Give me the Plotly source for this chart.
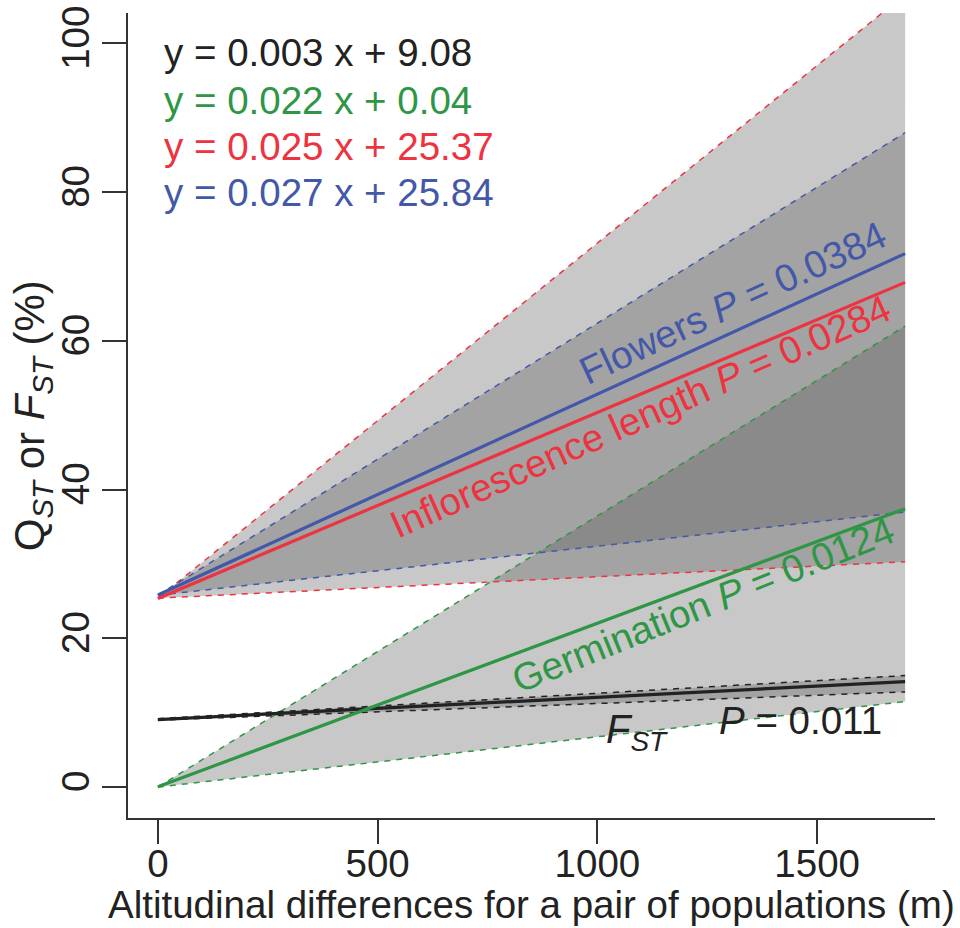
import plotly.graph_objects as go

# ---- data ----
x_ends = [0, 1700]

fst_fit = [9.08, 14.18]
fst_lo = [9.0, 12.8]
fst_hi = [9.2, 15.0]

germ_fit = [0.04, 37.44]
germ_lo = [0.0, 11.5]
germ_hi = [0.0, 62.0]

infl_fit = [25.37, 67.87]
infl_lo = [25.4, 30.3]
infl_hi = [25.4, 106.6]

flow_fit = [25.84, 71.74]
flow_lo = [25.8, 37.0]
flow_hi = [25.8, 88.0]

x_ticks = [0, 500, 1000, 1500]
y_ticks = [0, 20, 40, 60, 80, 100]

equations = ["y = 0.003 x + 9.08", "y = 0.022 x + 0.04",
             "y = 0.025 x + 25.37", "y = 0.027 x + 25.84"]

BLACK = "#222222"
GREEN = "#2e9645"
RED = "#ee3340"
BLUE = "#4358a8"
FILL = "rgba(87,87,87,0.33)"
FONT = "Liberation Sans"
FS = 38.5

fig = go.Figure()

bands = [(infl_lo, infl_hi), (flow_lo, flow_hi), (germ_lo, germ_hi), (fst_lo, fst_hi)]
for lo, hi in bands:
    fig.add_trace(go.Scatter(
        x=[x_ends[0], x_ends[1], x_ends[1], x_ends[0]],
        y=[lo[0], lo[1], hi[1], hi[0]],
        fill="toself", fillcolor=FILL, line=dict(width=0),
        mode="lines", hoverinfo="skip", showlegend=False))

dashed = [(infl_lo, RED), (infl_hi, RED), (flow_lo, BLUE), (flow_hi, BLUE),
          (germ_lo, GREEN), (germ_hi, GREEN), (fst_lo, BLACK), (fst_hi, BLACK)]
for ys, col in dashed:
    fig.add_trace(go.Scatter(x=x_ends, y=ys, mode="lines",
                             line=dict(color=col, width=1.5, dash="6px,6px"),
                             showlegend=False, hoverinfo="skip"))

fits = [(fst_fit, BLACK), (germ_fit, GREEN), (infl_fit, RED), (flow_fit, BLUE)]
for ys, col in fits:
    fig.add_trace(go.Scatter(x=x_ends, y=ys, mode="lines",
                             line=dict(color=col, width=3.2),
                             showlegend=False, hoverinfo="skip"))

ann = []
eq_cols = [BLACK, GREEN, RED, BLUE]
eq_y = [98.8, 92.4, 86.2, 80.0]
for t, c, yy in zip(equations, eq_cols, eq_y):
    ann.append(dict(x=9, y=yy, xref="x", yref="y", text=t, showarrow=False,
                    xanchor="left", yanchor="middle",
                    font=dict(family=FONT, size=FS, color=c)))

ann.append(dict(x=1308, y=65.2, text="Flowers <i>P</i> = 0.0384", textangle=-25,
                showarrow=False, font=dict(family=FONT, size=FS, color=BLUE)))
ann.append(dict(x=1097, y=49.8, text="Inflorescence length <i>P</i> = 0.0284", textangle=-24,
                showarrow=False, font=dict(family=FONT, size=FS, color=RED)))
ann.append(dict(x=1240, y=24.6, text="Germination <i>P</i> = 0.0124", textangle=-22,
                showarrow=False, font=dict(family=FONT, size=FS, color=GREEN)))
ann.append(dict(x=1090, y=7.4, text="<i>F</i><sub><i>ST</i></sub>",
                showarrow=False, font=dict(family=FONT, size=40, color=BLACK)))
ann.append(dict(x=1462, y=9.0, text="<i>P</i> = 0.011",
                showarrow=False, font=dict(family=FONT, size=FS, color=BLACK)))

ann.append(dict(x=0.5, y=-0.108, xref="paper", yref="paper",
                text="Altitudinal differences for a pair of populations (m)",
                showarrow=False, xanchor="center", yanchor="middle",
                font=dict(family=FONT, size=FS, color=BLACK)))
ann.append(dict(x=-0.118, y=0.5, xref="paper", yref="paper",
                text="Q<sub><i>ST</i></sub> or <i>F</i><sub><i>ST</i></sub> (%)",
                textangle=-90, showarrow=False, xanchor="center", yanchor="middle",
                font=dict(family=FONT, size=42, color=BLACK)))

axis_common = dict(showgrid=False, zeroline=False, showline=True, linecolor="#333333",
                   linewidth=1.5, ticks="outside", ticklen=24, tickwidth=1.5,
                   tickcolor="#333333", automargin=False,
                   tickfont=dict(family=FONT, size=FS, color=BLACK))

fig.update_layout(
    width=960, height=928,
    margin=dict(l=128, r=25, t=13, b=110),
    paper_bgcolor="white", plot_bgcolor="white",
    xaxis=dict(range=[-68, 1768], tickvals=x_ticks, ticktext=[str(v) for v in x_ticks],
               ticklabelstandoff=-13, **axis_common),
    yaxis=dict(range=[-4.16, 104.1], tickvals=y_ticks, ticktext=[str(v) for v in y_ticks],
               tickangle=-90, ticklabelstandoff=-2, **axis_common),
    annotations=ann,
    showlegend=False,
)

fig.write_html("out.html", config={"displayModeBar": False},
               post_script="document.body.style.margin='0';document.body.style.overflow='hidden';")
